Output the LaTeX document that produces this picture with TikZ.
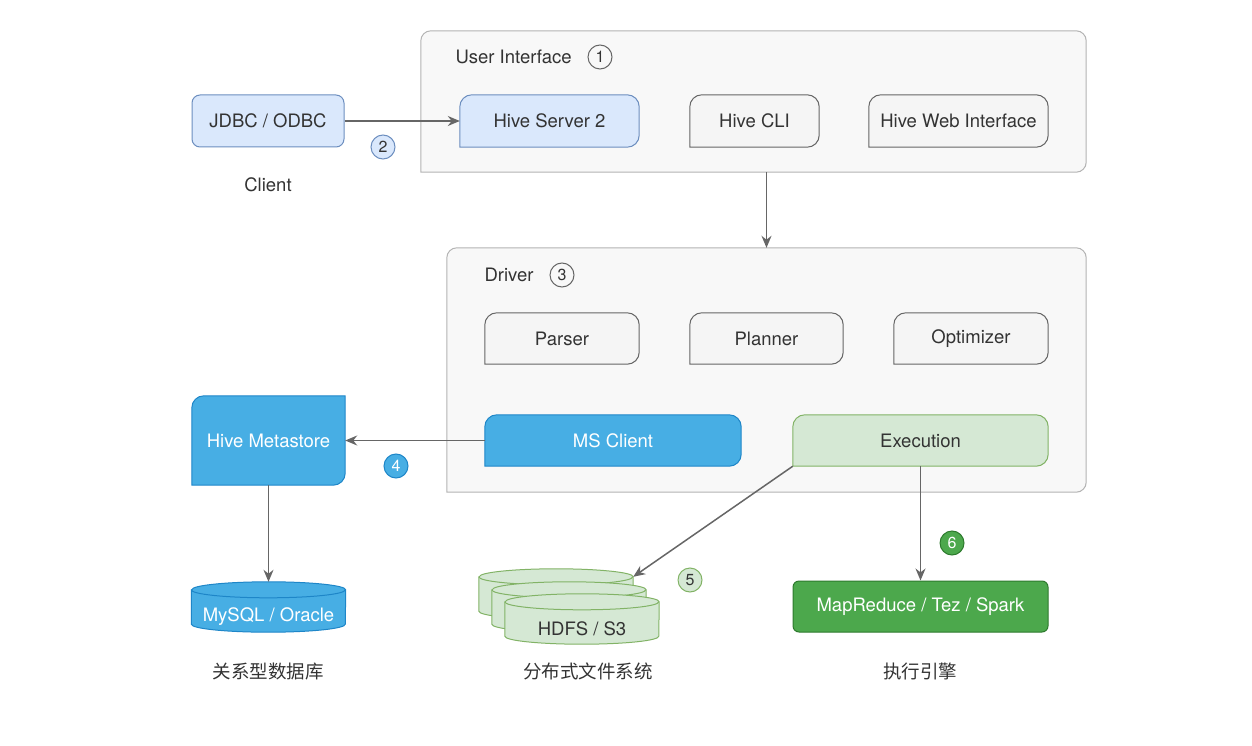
\documentclass[tikz,border=0pt]{standalone}
\usepackage{fontspec}
\setmainfont{TeX Gyre Heros}
\newfontfamily\cjk{Noto Sans CJK SC}
\usetikzlibrary{backgrounds,arrows.meta}

\definecolor{panelfill}{HTML}{F8F8F8}
\definecolor{paneldraw}{HTML}{B3B3B3}
\definecolor{grayfill}{HTML}{F5F5F5}
\definecolor{graydraw}{HTML}{666666}
\definecolor{lbluefill}{HTML}{DAE8FC}
\definecolor{lbluedraw}{HTML}{6C8EBF}
\definecolor{bluefill}{HTML}{47AEE4}
\definecolor{bluedraw}{HTML}{1E86C8}
\definecolor{lgreenfill}{HTML}{D5E8D4}
\definecolor{lgreendraw}{HTML}{82B366}
\definecolor{greenfill}{HTML}{4CA84C}
\definecolor{greendraw}{HTML}{2D7A2D}
\definecolor{txt}{HTML}{333333}
\definecolor{linkgray}{HTML}{666666}

% tab shape: three rounded corners, square bottom left
\newcommand{\tabshape}[3]{%
  \draw[#2] (#1.south west) -- ([yshift=-#3]#1.north west) arc (180:90:#3)
    -- ([xshift=-#3]#1.north east) arc (90:0:#3)
    -- ([yshift=#3]#1.south east) arc (0:-90:#3) -- cycle;}
% cylinder drawn round a node
\newcommand{\cyl}[2]{%
  \draw[#2] ([yshift=-8pt]#1.north west) -- ([yshift=8pt]#1.south west)
    arc (180:360:77pt and 8pt) -- ([yshift=-8pt]#1.north east)
    arc (0:180:77pt and 8pt) -- cycle;
  \draw[#2, fill=none] ([yshift=-8pt]#1.north west) arc (180:360:77pt and 8pt);}

\begin{document}
\begin{tikzpicture}[x=1pt, y=-1pt,
    font=\fontsize{18.5}{22}\selectfont, text=txt,
    box/.style={inner sep=0pt, minimum height=52pt},
    panel/.style={fill=panelfill, draw=paneldraw, line width=1pt},
    graybox/.style={fill=grayfill, draw=graydraw, line width=1pt},
    lbluebox/.style={fill=lbluefill, draw=lbluedraw, line width=1pt},
    bluebox/.style={fill=bluefill, draw=bluedraw, line width=1pt},
    lgreenbox/.style={fill=lgreenfill, draw=lgreendraw, line width=1pt},
    num/.style={circle, inner sep=0pt, minimum size=24pt, line width=1pt,
      font=\fontsize{16}{16}\selectfont},
    link/.style={draw=linkgray, line width=1.5pt, -{Stealth[length=12pt,width=10pt]}},
    cjklabel/.style={font=\fontsize{18.5}{22}\selectfont\cjk}]

    \useasboundingbox (0,0) rectangle (1252,746);

    % User Interface
    \node[box, minimum width=665pt, minimum height=141pt] (ui) at (753.5,101.5) {};
    \node[anchor=west] (uilbl) at (452,57) {User Interface};
    \node[num, draw=graydraw, fill=panelfill] (n1) at (600,57) {1};
    \node[box, minimum width=179pt] (hs2) at (549.5,121) {Hive Server 2};
    \node[box, minimum width=129pt] (cli) at (754.5,121) {Hive CLI};
    \node[box, minimum width=179pt] (hwi) at (958.5,121) {Hive Web Interface};

    % Client
    \node[box, minimum width=152pt, rounded corners=8pt, lbluebox] (jdbc) at (268,121) {JDBC / ODBC};
    \node (clientlbl) at (268,185) {Client};
    \node[num, draw=lbluedraw, fill=lbluefill] (n2) at (383,147) {2};

    % Driver
    \node[box, minimum width=639pt, minimum height=244pt] (drv) at (766.5,370) {};
    \node[anchor=west] (drvlbl) at (481,275) {Driver};
    \node[num, draw=graydraw, fill=panelfill] (n3) at (562,275) {3};
    \node[box, minimum width=154pt, minimum height=51pt] (parser) at (562,338.5) {Parser};
    \node[box, minimum width=153pt, minimum height=51pt] (planner) at (766.5,338.5) {Planner};
    \node[box, minimum width=154pt, minimum height=51pt] (optim) at (971,338.5) {Optimizer};
    \node[box, minimum width=256pt, minimum height=51pt, text=white] (msc) at (613,440.5) {MS Client};
    \node[box, minimum width=255pt, minimum height=51pt] (exec) at (920.5,440.5) {Execution};

    % Metastore
    \node[box, minimum width=153pt, minimum height=89pt, text=white] (meta) at (268.5,440.5) {Hive Metastore};
    \node[num, draw=bluedraw, fill=bluefill, text=white] (n4) at (396,466) {4};
    \node[box, minimum width=154pt, minimum height=50pt, text height=29pt, text depth=0pt, text=white] (mysql) at (268.5,607) {MySQL / Oracle};
    \node[cjklabel] (rdb) at (268,671) {关系型数据库};

    % storage
    \node[box, minimum width=154pt, minimum height=50pt] (hdfsa) at (556,594) {};
    \node[box, minimum width=154pt, minimum height=50pt] (hdfsb) at (569,607) {};
    \node[box, minimum width=154pt, minimum height=50pt, text height=33pt, text depth=0pt] (hdfsc) at (582,619) {HDFS / S3};
    \node[num, draw=lgreendraw, fill=lgreenfill] (n5) at (690,580) {5};
    \node[cjklabel] (dfs) at (588,671) {分布式文件系统};

    % engine
    \node[box, minimum width=255pt, minimum height=51pt, rounded corners=6pt,
      fill=greenfill, draw=greendraw, line width=1pt, text=white] (mr) at (920.5,606.5) {MapReduce / Tez / Spark};
    \node[num, draw=greendraw, fill=greenfill, text=white] (n6) at (952,543) {6};
    \node[cjklabel] (engine) at (920,671) {执行引擎};

    % shapes behind the text
    \begin{scope}[on background layer]
        \tabshape{ui}{panel}{10pt}
        \tabshape{drv}{panel}{10pt}
        \tabshape{hs2}{lbluebox}{12pt}
        \tabshape{cli}{graybox}{12pt}
        \tabshape{hwi}{graybox}{12pt}
        \tabshape{parser}{graybox}{12pt}
        \tabshape{planner}{graybox}{12pt}
        \tabshape{optim}{graybox}{12pt}
        \tabshape{msc}{bluebox}{12pt}
        \tabshape{exec}{lgreenbox}{12pt}
        \draw[bluebox] (meta.south west) -- ([yshift=-12pt]meta.north west) arc (180:90:12pt)
            -- (meta.north east) -- ([yshift=12pt]meta.south east) arc (0:-90:12pt) -- cycle;
        \cyl{mysql}{bluebox}
        \cyl{hdfsa}{lgreenbox}
        \cyl{hdfsb}{lgreenbox}
        \cyl{hdfsc}{lgreenbox}
    \end{scope}

    % connectors
    \draw[link] (jdbc.east) -- (hs2.west);
    \draw[link] (drv.north |- ui.south) -- (drv.north);
    \draw[link] (msc.west) -- (meta.east);
    \draw[link] (meta.south) -- (mysql.north);
    \draw[link] (exec.south west) -- ([yshift=-8pt]hdfsa.north east);
    \draw[link] (exec.south) -- (mr.north);

\end{tikzpicture}
\end{document}
